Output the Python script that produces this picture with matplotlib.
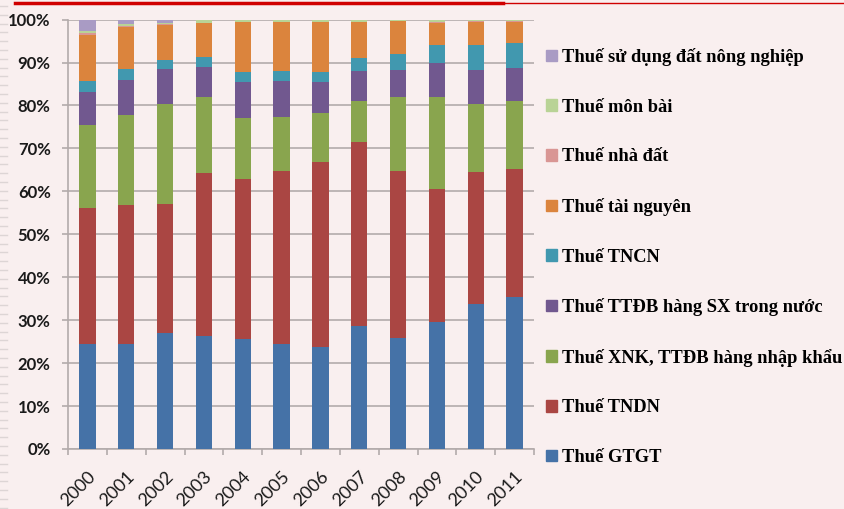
import matplotlib
matplotlib.use("Agg")
import matplotlib.pyplot as plt
import numpy as np
from matplotlib.lines import Line2D

years = ["2000", "2001", "2002", "2003", "2004", "2005",
         "2006", "2007", "2008", "2009", "2010", "2011"]

# share of each tax in total revenue, % (bottom -> top of the stack)
gtgt = [24.4, 24.4, 26.9, 26.4, 25.5, 24.4, 23.8, 28.6, 25.9, 29.5, 33.8, 35.3]
tndn = [31.8, 32.4, 30.2, 37.8, 37.4, 40.3, 43.0, 42.8, 38.9, 31.1, 30.8, 30.0]
xnk = [19.3, 21.0, 23.2, 17.7, 14.1, 12.7, 11.4, 9.7, 17.2, 21.4, 15.7, 15.7]
ttdb = [7.6, 8.1, 8.2, 7.1, 8.5, 8.4, 7.3, 7.0, 6.3, 8.0, 8.0, 7.7]
tncn = [2.5, 2.5, 2.2, 2.3, 2.2, 2.3, 2.4, 3.0, 3.8, 4.2, 5.7, 5.8]
tai_nguyen = [10.7, 9.8, 8.0, 7.8, 11.7, 11.3, 11.5, 8.3, 7.5, 5.1, 5.5, 5.0]
nha_dat = [0.5, 0.2, 0.2, 0.1, 0.1, 0.1, 0.1, 0.1, 0.1, 0.2, 0.2, 0.2]
mon_bai = [0.5, 0.5, 0.4, 0.7, 0.4, 0.4, 0.4, 0.4, 0.3, 0.4, 0.2, 0.2]
sdd_nn = [2.7, 1.1, 0.7, 0.1, 0.1, 0.1, 0.1, 0.1, 0.1, 0.1, 0.1, 0.1]

series = [
    ("Thuế GTGT", gtgt, "#4572A7"),
    ("Thuế TNDN", tndn, "#AA4643"),
    ("Thuế XNK, TTĐB hàng nhập khẩu", xnk, "#89A54E"),
    ("Thuế TTĐB hàng SX trong nước", ttdb, "#71588F"),
    ("Thuế TNCN", tncn, "#4198AF"),
    ("Thuế tài nguyên", tai_nguyen, "#DB843D"),
    ("Thuế nhà đất", nha_dat, "#D99694"),
    ("Thuế môn bài", mon_bai, "#B9D396"),
    ("Thuế sử dụng đất nông nghiệp", sdd_nn, "#A99BC4"),
]

BG = "#F9EFEF"
GRID = "#B3ABAB"

fig = plt.figure(figsize=(8.44, 5.09), dpi=100, facecolor=BG)
ax = fig.add_axes([0.0806, 0.1179, 0.5521, 0.8436], facecolor=BG)

x = np.arange(len(years))
bottom = np.zeros(len(years))
handles = []
for name, vals, color in series:
    ax.bar(x, vals, width=0.42, bottom=bottom, color=color, zorder=3)
    bottom += np.array(vals)
    handles.append(plt.Rectangle((0, 0), 1, 1, color=color, label=name))

ax.set_xlim(-0.5, len(years) - 0.5)
ax.set_ylim(0, 100)
ax.set_yticks(np.arange(0, 101, 10))
ax.set_yticklabels([f"{v}%" for v in range(0, 101, 10)],
                   fontfamily="Lato", fontweight="bold", fontsize=12, color="#1A1A1A")
ax.yaxis.grid(True, color=GRID, linewidth=1.2, zorder=0)
ax.tick_params(axis="y", length=4.5, color=GRID, width=1.2, pad=8)

ax.set_xticks(np.arange(-0.5, len(years), 1), minor=False)
ax.set_xticklabels([])
ax.set_xticks(x, minor=True)
ax.set_xticklabels(years, minor=True, rotation=45, ha="right", va="top",
                   rotation_mode="anchor", fontfamily="Lato", fontsize=13,
                   color="#1A1A1A")
ax.tick_params(axis="x", which="major", length=4.5, color=GRID, width=1.2)
ax.tick_params(axis="x", which="minor", length=0, pad=14)

for side in ("top", "right"):
    ax.spines[side].set_visible(False)
for side in ("left", "bottom"):
    ax.spines[side].set_color(GRID)
    ax.spines[side].set_linewidth(1.2)

leg = fig.legend(handles=handles[::-1], loc="upper left",
                 bbox_to_anchor=(0.638, 0.920), frameon=False,
                 prop={"family": "Liberation Serif", "weight": "bold", "size": 13.3},
                 handlelength=0.6, handleheight=0.6, handletextpad=0.3,
                 labelspacing=1.765, borderaxespad=0)

# red rule across the top
fig.add_artist(Line2D([15 / 844, 503 / 844], [1 - 3 / 509, 1 - 3 / 509],
                      color="#D00000", linewidth=2.5))
fig.add_artist(Line2D([503 / 844, 1.0], [1 - 3 / 509, 1 - 3 / 509],
                      color="#D00000", linewidth=1.0))

# faint striped strip on the left edge
for yy in np.arange(6, 509, 8.8):
    fig.add_artist(Line2D([0, 7 / 844], [1 - yy / 509, 1 - yy / 509],
                          color="#DDD5D5", linewidth=1.0))

fig.savefig("out.png", dpi=100, facecolor=BG)
